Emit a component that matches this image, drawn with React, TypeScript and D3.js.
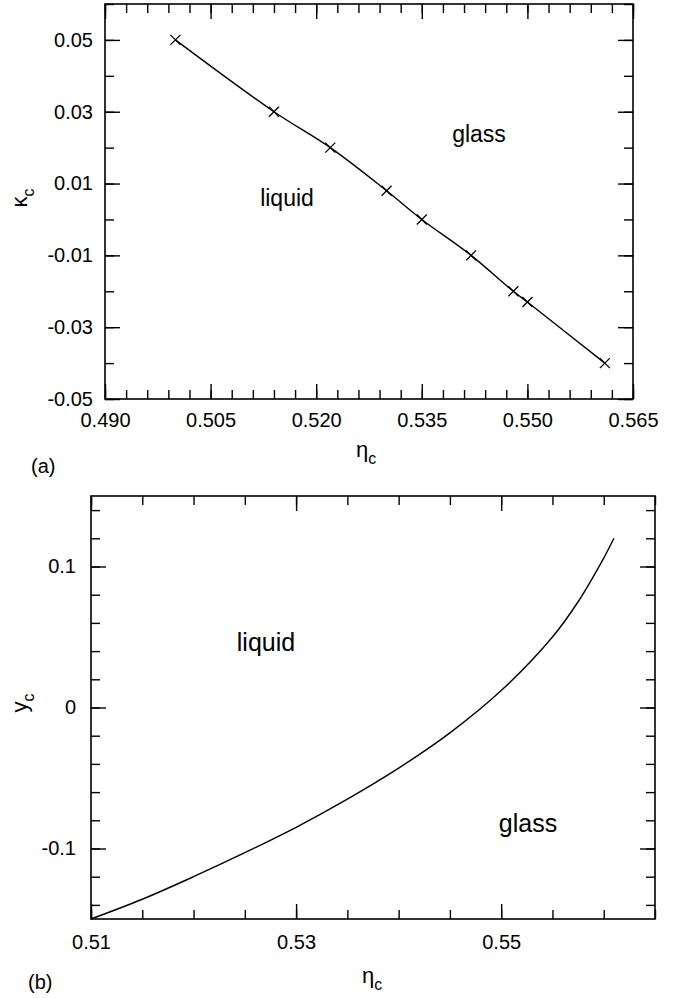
import React, { useEffect, useRef } from "react";
import * as d3 from "d3";

// panel (a): critical kappa along the glass line
const kappaEta = [0.5, 0.514, 0.522, 0.53, 0.535, 0.542, 0.548, 0.55, 0.561];
const kappaValues = [0.05, 0.03, 0.02, 0.008, 0.0, -0.01, -0.02, -0.023, -0.04];

// panel (b): critical y along the glass line
const yEta = [0.51, 0.515, 0.52, 0.525, 0.53, 0.535, 0.54, 0.545, 0.55, 0.555, 0.5575, 0.56, 0.561];
const yValues = [-0.15, -0.136, -0.12, -0.103, -0.085, -0.065, -0.043, -0.018, 0.012, 0.05, 0.075, 0.106, 0.12];

// tick values
const aXTicks = [0.49, 0.505, 0.52, 0.535, 0.55, 0.565];
const aYTicks = [-0.05, -0.03, -0.01, 0.01, 0.03, 0.05];
const bXTicks = [0.51, 0.53, 0.55];
const bYTicks = [-0.1, 0, 0.1];

const FONT = "'Liberation Sans', Arial, Helvetica, sans-serif";

const steps = (start: number, stop: number, step: number) =>
  d3.range(0, Math.round((stop - start) / step) + 1).map((i) => +(start + i * step).toFixed(6));

interface PanelProps {
  box: { left: number; right: number; top: number; bottom: number };
  xDomain: [number, number];
  yDomain: [number, number];
  xTicks: number[];
  yTicks: number[];
  xMinor: number[];
  yMinor: number[];
  xFormat: (d: number) => string;
  yFormat: (d: number) => string;
  xPad: number;
  yPad: number;
  eta: number[];
  values: number[];
  markers: boolean;
  curve: d3.CurveFactory;
}

const Panel = (p: PanelProps) => {
  const ref = useRef<SVGGElement>(null);
  const w = p.box.right - p.box.left;
  const h = p.box.bottom - p.box.top;

  useEffect(() => {
    const g = d3.select(ref.current);
    g.selectAll("*").remove();

    const x = d3.scaleLinear().domain(p.xDomain).range([0, w]);
    const y = d3.scaleLinear().domain(p.yDomain).range([h, 0]);

    const style = (sel) => {
      sel.select(".domain").remove();
      sel.attr("font-family", FONT).attr("font-size", 20);
      sel.selectAll("line").attr("stroke", "#000").attr("stroke-width", 1.4);
      sel.selectAll("text").attr("fill", "#000");
    };
    const blank = () => "";

    // major + minor ticks, all pointing inward
    const axes = [
      { a: d3.axisBottom(x).tickValues(p.xTicks).tickSize(-15).tickPadding(p.xPad).tickFormat(p.xFormat), t: `translate(0,${h})` },
      { a: d3.axisBottom(x).tickValues(p.xMinor).tickSize(-9).tickFormat(blank), t: `translate(0,${h})` },
      { a: d3.axisTop(x).tickValues(p.xTicks).tickSize(-15).tickFormat(blank), t: "" },
      { a: d3.axisTop(x).tickValues(p.xMinor).tickSize(-9).tickFormat(blank), t: "" },
      { a: d3.axisLeft(y).tickValues(p.yTicks).tickSize(-15).tickPadding(p.yPad).tickFormat(p.yFormat), t: "" },
      { a: d3.axisLeft(y).tickValues(p.yMinor).tickSize(-9).tickFormat(blank), t: "" },
      { a: d3.axisRight(y).tickValues(p.yTicks).tickSize(-15).tickFormat(blank), t: `translate(${w},0)` },
      { a: d3.axisRight(y).tickValues(p.yMinor).tickSize(-9).tickFormat(blank), t: `translate(${w},0)` },
    ];
    axes.forEach(({ a, t }) => {
      g.append("g").attr("transform", t).call(a as any).call(style);
    });

    // frame
    g.append("rect")
      .attr("width", w)
      .attr("height", h)
      .attr("fill", "none")
      .attr("stroke", "#000")
      .attr("stroke-width", 1.6);

    const pts = p.eta.map((e, i) => [e, p.values[i]] as [number, number]);
    const line = d3
      .line<[number, number]>()
      .x((d) => x(d[0]))
      .y((d) => y(d[1]))
      .curve(p.curve);

    g.append("path")
      .datum(pts)
      .attr("fill", "none")
      .attr("stroke", "#000")
      .attr("stroke-width", 1.4)
      .attr("d", line);

    if (p.markers) {
      g.selectAll("path.cross")
        .data(pts)
        .enter()
        .append("path")
        .attr("class", "cross")
        .attr("transform", (d) => `translate(${x(d[0])},${y(d[1])})`)
        .attr("d", "M-5,-5L5,5M-5,5L5,-5")
        .attr("stroke", "#000")
        .attr("stroke-width", 1.3);
    }
  }, []);

  return <g ref={ref} transform={`translate(${p.box.left},${p.box.top})`} />;
};

const Label = ({ x, y, size, children }) => (
  <text x={x} y={y} fontFamily={FONT} fontSize={size} textAnchor="middle" fill="#000">
    {children}
  </text>
);

const Sub = ({ main, sub, x, y, size, rotate = false }) => (
  <text
    fontFamily={FONT}
    fontSize={size}
    fill="#000"
    textAnchor="middle"
    transform={rotate ? `translate(${x},${y}) rotate(-90)` : `translate(${x},${y})`}
  >
    <tspan>{main}</tspan>
    <tspan fontSize={size * 0.72} dy={size * 0.3}>
      {sub}
    </tspan>
  </text>
);

const App = () => {
  return (
    <svg
      width={681}
      height={998}
      style={{ position: "absolute", left: 0, top: 0, background: "#fff" }}
    >
      <rect width={681} height={998} fill="#fff" />
      <Panel
        box={{ left: 105, right: 633, top: 4, bottom: 399 }}
        xDomain={[0.49, 0.565]}
        yDomain={[-0.05, 0.06]}
        xTicks={aXTicks}
        yTicks={aYTicks}
        xMinor={steps(0.49, 0.565, 0.003)}
        yMinor={steps(-0.05, 0.06, 0.01)}
        xFormat={(d) => d.toFixed(3)}
        yFormat={(d) => d.toFixed(2)}
        xPad={14}
        yPad={12}
        eta={kappaEta}
        values={kappaValues}
        markers={true}
        curve={d3.curveCatmullRom.alpha(0.5)}
      />
      <Label x={287} y={206} size={23}>liquid</Label>
      <Label x={479} y={142} size={23}>glass</Label>
      <Sub main="κ" sub="c" x={27} y={198} size={22} rotate />
      <Sub main="η" sub="c" x={366} y={457} size={22} />
      <text x={31} y={473} fontFamily={FONT} fontSize={20} fill="#000">(a)</text>

      <Panel
        box={{ left: 91, right: 655, top: 496, bottom: 919 }}
        xDomain={[0.51, 0.565]}
        yDomain={[-0.15, 0.15]}
        xTicks={bXTicks}
        yTicks={bYTicks}
        xMinor={steps(0.51, 0.565, 0.005)}
        yMinor={steps(-0.14, 0.14, 0.02)}
        xFormat={(d) => d.toFixed(2)}
        yFormat={(d) => (d === 0 ? "0" : String(+d.toFixed(2)))}
        xPad={16}
        yPad={15}
        eta={yEta}
        values={yValues}
        markers={false}
        curve={d3.curveCatmullRom.alpha(0.5)}
      />
      <Label x={266} y={651} size={25}>liquid</Label>
      <Label x={528} y={832} size={25}>glass</Label>
      <Sub main="y" sub="c" x={27} y={703} size={22} rotate />
      <Sub main="η" sub="c" x={372} y={983} size={22} />
      <text x={28} y={989} fontFamily={FONT} fontSize={20} fill="#000">(b)</text>
    </svg>
  );
};

export default App;
